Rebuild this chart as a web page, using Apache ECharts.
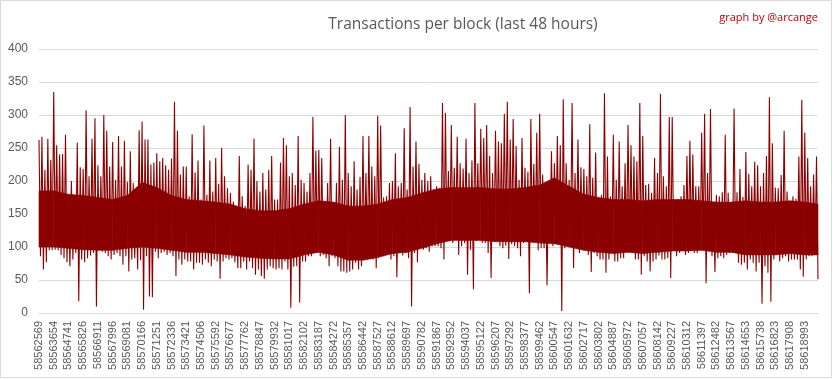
<!DOCTYPE html>
<html>
<head>
<meta charset="utf-8">
<script src="https://cdn.jsdelivr.net/npm/echarts/dist/echarts.min.js"></script>
<style>
html,body{margin:0;padding:0;background:#fff;}
#chart{width:833px;height:379px;}
</style>
</head>
<body>
<div id="chart"></div>
<script>
// Block-number tick labels (every 1085th block shown on the axis)
const tickLabels = [
  '58562569','58563654','58564741','58565826','58566911','58567996','58569081','58570166','58571251','58572336',
  '58573421','58574506','58575592','58576677','58577762','58578847','58579932','58581017','58582102','58583187',
  '58584272','58585357','58586442','58587527','58588612','58589697','58590782','58591867','58592952','58594037',
  '58595122','58596207','58597292','58598377','58599462','58600547','58601632','58602717','58603802','58604887',
  '58605972','58607057','58608142','58609227','58610312','58611397','58612482','58613567','58614653','58615738',
  '58616823','58617908','58618993'
];

// Samples per tick-label interval (each sample = max and min of a slice of blocks)
const samplesPerLabel = 5;

// Highest transactions-per-block value in each slice
const hiValues = [
  262,267,217,264,232,335,254,240,241,270,
  162,200,169,258,221,218,307,207,264,295,
  224,207,300,276,222,259,202,268,222,261,
  199,245,197,170,277,290,263,263,225,228,
  242,230,235,224,217,234,320,276,210,222,
  222,177,271,213,231,172,284,179,231,184,
  235,196,250,207,189,182,169,150,238,177,
  162,225,217,264,200,184,212,187,217,238,
  172,172,228,265,254,207,212,194,268,202,
  197,184,212,297,246,247,235,169,197,264,
  162,197,252,202,300,212,192,230,187,206,
  268,212,268,222,207,299,284,175,177,197,
  200,242,192,197,280,187,312,222,260,226,
  202,212,200,207,187,192,189,318,303,215,
  285,220,267,227,219,264,212,231,318,227,
  279,265,285,238,212,276,260,257,302,320,
  263,294,253,202,265,220,214,294,226,273,
  302,210,197,194,245,227,268,254,324,227,
  202,318,212,263,221,218,207,286,205,243,
  174,179,333,237,177,270,202,260,192,227,
  285,254,237,230,318,268,194,196,182,235,
  212,332,207,192,297,297,169,172,177,194,
  238,261,240,192,192,273,302,212,309,167,
  179,177,183,270,182,167,310,183,218,176,
  244,211,192,229,224,192,212,238,327,257,
  190,189,209,276,184,162,177,173,237,323,
  273,235,192,210,237
];

// Lowest transactions-per-block value in each slice
const loValues = [
  86,66,77,95,95,96,95,88,83,77,
  71,81,91,18,81,77,83,87,91,10,
  96,93,91,86,81,88,91,86,73,86,
  63,81,83,66,80,5,86,25,24,93,
  83,91,93,88,91,86,56,81,73,81,
  78,78,66,76,76,73,81,76,71,81,
  78,52,78,83,81,83,77,68,68,78,
  66,78,68,58,66,56,52,66,71,68,
  66,68,66,78,66,8,70,71,16,78,
  78,86,86,91,91,86,88,83,71,86,
  83,71,63,63,61,63,66,76,66,71,
  81,81,83,81,68,91,91,88,91,81,
  86,54,91,87,91,83,10,91,77,101,
  96,98,93,101,101,101,98,81,109,111,
  106,111,88,101,106,58,96,36,109,111,
  106,106,91,53,111,109,101,98,102,82,
  104,101,98,86,106,109,30,109,109,95,
  98,98,42,106,101,106,104,3,98,104,
  109,68,104,91,101,96,88,62,91,86,
  81,81,61,81,91,78,78,83,83,96,
  96,91,81,81,58,86,78,63,78,81,
  87,81,81,83,53,98,86,91,95,88,
  91,96,91,91,96,101,45,96,86,62,
  83,86,83,88,91,91,91,76,73,76,
  66,81,76,63,76,14,71,61,17,81,
  91,78,83,86,78,81,81,81,66,55,
  81,86,86,91,51
];

// Dense core of the band (where the line fills solidly), one value per tick-label position
const coreTop = [
  185,185,180,178,175,172,178,198,190,178,
  172,170,168,165,158,155,155,158,165,170,
  168,162,162,165,172,175,182,188,190,190,
  190,188,188,190,194,205,192,180,175,172,
  172,170,172,172,172,170,168,168,170,168,
  168,170,168,165
];
const coreBottom = [
  100,100,98,96,95,95,98,100,98,95,
  92,92,90,88,85,83,82,82,88,92,
  88,80,80,84,90,92,98,105,110,110,
  110,108,108,108,106,105,100,95,92,90,
  92,90,92,94,94,95,92,92,88,88,
  88,90,88,88
];

const yTicks = [0, 50, 100, 150, 200, 250, 300, 350, 400];

// Build the line: in each slice the line runs from the slice's max to its min
const lineData = [];
for (let i = 0; i < hiValues.length; i++) {
  lineData.push([i / samplesPerLabel, hiValues[i]]);
  lineData.push([(i + 0.5) / samplesPerLabel, loValues[i]]);
}
const xMax = (hiValues.length - 0.5) / samplesPerLabel;

// Core band rows: [x, bottom, top]
const coreData = coreTop.map((t, k) => [Math.min(k, xMax), coreBottom[k], t]);

const chart = echarts.init(document.getElementById('chart'), null, {renderer: 'canvas'});
chart.setOption({
  animation: false,
  backgroundColor: '#ffffff',
  title: [
    {
      text: 'Transactions per block (last 48 hours)',
      left: 458, top: 12, textAlign: 'center',
      textStyle: {fontFamily: 'Open Sans', fontSize: 15.5, fontWeight: 'normal', color: '#595959'}
    },
    {
      text: 'graph by @arcange',
      right: 10, top: 7,
      textStyle: {fontFamily: 'Open Sans', fontSize: 11, fontWeight: 'normal', color: '#c00000'}
    }
  ],
  graphic: [{
    type: 'rect', silent: true,
    shape: {x: 0.5, y: 0.5, width: 831, height: 377},
    style: {fill: 'none', stroke: '#d9d9d9', lineWidth: 1}
  }],
  grid: {left: 39, right: 15, top: 49, bottom: 66, containLabel: false, outerBoundsMode: 'none'},
  xAxis: {
    type: 'value', min: 0, max: xMax, interval: 1,
    axisLine: {show: true, lineStyle: {color: '#d9d9d9', width: 1}},
    axisTick: {show: false},
    splitLine: {show: false},
    axisLabel: {
      rotate: 90, margin: 8, color: '#595959', fontSize: 11, fontFamily: 'Liberation Sans',
      showMaxLabel: false,
      formatter: function (v) {
        const k = Math.round(v);
        return Math.abs(v - k) < 1e-6 && tickLabels[k] !== undefined ? tickLabels[k] : '';
      }
    }
  },
  yAxis: {
    type: 'value', min: yTicks[0], max: yTicks[yTicks.length - 1], interval: yTicks[1] - yTicks[0],
    axisLine: {show: false}, axisTick: {show: false},
    splitLine: {show: true, lineStyle: {color: '#d9d9d9', width: 1}},
    axisLabel: {margin: 11, color: '#595959', fontSize: 12, fontFamily: 'Liberation Sans'}
  },
  series: [
    {
      type: 'custom',
      silent: true,
      z: 2,
      data: coreData,
      encode: {x: 0, y: [1, 2]},
      renderItem: function (params, api) {
        const i = params.dataIndex;
        if (i >= coreData.length - 1) return null;
        const a = coreData[i], b = coreData[i + 1];
        const pts = [
          api.coord([a[0], a[2]]), api.coord([b[0], b[2]]),
          api.coord([b[0], b[1]]), api.coord([a[0], a[1]])
        ];
        return {
          type: 'polygon',
          shape: {points: pts},
          style: {fill: '#8b0000', stroke: '#8b0000', lineWidth: 0.6}
        };
      }
    },
    {
      type: 'line',
      data: lineData,
      showSymbol: false,
      silent: true,
      lineStyle: {color: '#8b0000', width: 1.1},
      z: 3
    }
  ]
});
</script>
</body>
</html>
